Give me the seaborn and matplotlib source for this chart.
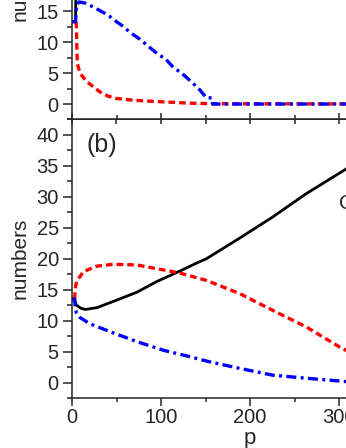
import numpy as np
import matplotlib
matplotlib.use("Agg")
import matplotlib.pyplot as plt
import seaborn as sns
from matplotlib.ticker import MultipleLocator

# -------------------------------
# Data
# -------------------------------
# panel (a)
a_black_p = [0, 4, 5, 50, 400]
a_black_n = [13.3, 13.3, 28, 30, 40]

a_red_p = [4.5, 5, 5.5, 6, 8, 10, 16, 22, 31, 40, 50, 70, 88, 110, 130, 157, 400]
a_red_n = [13.3, 12.5, 9, 6.5, 5.5, 4.8, 3.7, 3.0, 2.0, 1.3, 0.9, 0.6, 0.45, 0.3, 0.15, 0.05, 0]

a_blue_p = [0, 4, 5, 8, 15, 25, 35, 42, 50, 57, 65, 76, 86, 97, 105, 114, 124,
            134, 143, 151, 157, 158, 400]
a_blue_n = [13.3, 13.3, 16.0, 16.5, 16.3, 15.6, 14.8, 14.2, 13.3, 12.6, 11.6, 10.5,
            9.3, 8.0, 7.3, 5.9, 4.9, 3.6, 2.4, 1.0, 1.0, 0, 0]

# panel (b)
b_black_p = [0, 3, 5, 10, 15, 28, 50, 73, 95, 121, 140, 151, 188, 225, 263, 308, 350, 400]
b_black_n = [13.5, 13.3, 12.5, 12.0, 11.8, 12.1, 13.3, 14.6, 16.3, 18.0, 19.3, 20.0,
             23.3, 26.7, 30.5, 34.5, 38.5, 43]

b_red_p = [3, 3.5, 5, 12.7, 27.7, 46, 73, 95, 121, 151, 188, 225, 263, 300, 308, 350, 400]
b_red_n = [13.5, 15.0, 16.3, 17.9, 18.8, 19.1, 19.0, 18.4, 17.7, 16.5, 14.4, 11.7,
           9.0, 5.8, 5.2, 2.0, 0]

b_blue_p = [0, 3, 3.5, 5, 9, 20, 43, 73, 103, 129, 153, 188, 225, 263, 308, 400]
b_blue_n = [13.5, 13.5, 12.3, 11.2, 10.5, 9.5, 8.2, 6.6, 5.2, 4.3, 3.4, 2.3, 1.2,
            0.7, 0.15, 0]

# -------------------------------
# Figure layout (346 x 448 px)
# -------------------------------
sns.set_style("ticks")
plt.rcParams['font.family'] = ['Liberation Sans', 'DejaVu Sans']

W, H = 346, 448
fig = plt.figure(figsize=(W / 100, H / 100), dpi=100)

ax_left = 72 / W
ax_w = 356 / W
ax_h = 278.5 / H
ax_b = fig.add_axes([ax_left, 50 / H, ax_w, ax_h])
ax_a = fig.add_axes([ax_left, (H - 119.5) / H, ax_w, ax_h])

red_ls = (0, (2.0, 1.2))
blue_ls = (0, (3.0, 1.3, 0.9, 1.3))

for ax, (bp, bn, rp, rn, lp, ln) in [
    (ax_a, (a_black_p, a_black_n, a_red_p, a_red_n, a_blue_p, a_blue_n)),
    (ax_b, (b_black_p, b_black_n, b_red_p, b_red_n, b_blue_p, b_blue_n)),
]:
    sns.lineplot(x=bp, y=bn, ax=ax, color="black", lw=2.0, sort=False, estimator=None)
    sns.lineplot(x=rp, y=rn, ax=ax, color="red", lw=2.4, linestyle=red_ls,
                 sort=False, estimator=None)
    sns.lineplot(x=lp, y=ln, ax=ax, color="blue", lw=2.4, linestyle=blue_ls,
                 sort=False, estimator=None)

    ax.set_xlim(0, 400)
    ax.set_ylim(-2.5, 42.5)
    ax.xaxis.set_major_locator(MultipleLocator(100))
    ax.xaxis.set_minor_locator(MultipleLocator(50))
    ax.yaxis.set_major_locator(MultipleLocator(5))
    ax.yaxis.set_minor_locator(MultipleLocator(2.5))
    ax.tick_params(axis='y', which='major', direction='out', length=6.5, width=1.1,
                   labelsize=14.5, pad=3)
    ax.tick_params(axis='y', which='minor', direction='out', length=3.5, width=1.1)
    for s in ax.spines.values():
        s.set_linewidth(1.1)
    ax.set_ylabel("numbers", fontsize=15)
    ax.yaxis.set_label_coords(-0.118, 0.5)

# top panel: ticks on its bottom edge point inward, no labels
ax_a.tick_params(axis='x', which='both', direction='in', labelbottom=False, width=1.1)
ax_a.tick_params(axis='x', which='major', length=4)
ax_a.tick_params(axis='x', which='minor', length=3)
ax_a.set_xlabel("")

# bottom panel
ax_b.tick_params(axis='x', which='major', direction='out', length=5.5, width=1.1,
                 labelsize=14.5, pad=2)
ax_b.tick_params(axis='x', which='minor', direction='out', length=3, width=1.1)
top = ax_b.secondary_xaxis('top')
top.xaxis.set_major_locator(MultipleLocator(100))
top.xaxis.set_minor_locator(MultipleLocator(50))
top.tick_params(which='both', direction='in', labeltop=False, width=1.1, length=3.5)
top.spines['top'].set_linewidth(1.1)

ax_b.set_xlabel("p", fontsize=16)
ax_b.xaxis.set_label_coords(0.5, -0.108)

ax_b.text(16, 38.3, "(b)", fontsize=18, ha='left', va='center')
ax_b.text(300, 29, "C", fontsize=15, ha='left', va='center')

fig.savefig("out.png", dpi=100)
